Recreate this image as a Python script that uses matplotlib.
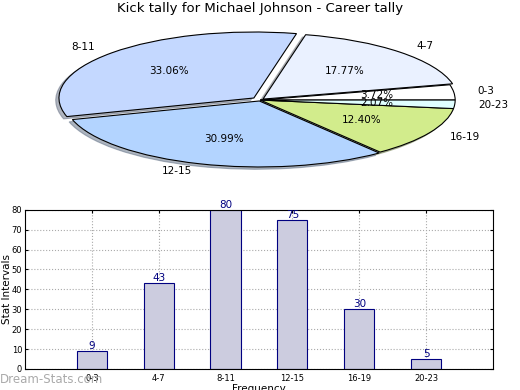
import matplotlib
matplotlib.use("Agg")
import matplotlib.pyplot as plt

plt.rcParams["font.family"] = ["DejaVu Sans"]

# 数据
labels = ["0-3", "4-7", "8-11", "12-15", "16-19", "20-23"]
counts = [9, 43, 80, 75, 30, 5]
pie_colors = ["#ffffff", "#eaf1ff", "#c4d8ff", "#b3d4ff", "#d2ec8c", "#e0ffff"]
explode = [0.0, 0.02, 0.045, 0.015, 0.0, 0.0]

fig = plt.figure(figsize=(5.2, 3.9), dpi=100)
fig.suptitle("Kick tally for Michael Johnson - Career tally", fontsize=9.5, y=0.995)

# 饼图 (压扁成椭圆)
ax1 = fig.add_axes([0.032, 0.532, 0.937, 0.423])
wedges, texts, autotexts = ax1.pie(
    counts, labels=labels, colors=pie_colors, explode=explode,
    startangle=0, counterclock=True, shadow=dict(ox=-0.012, oy=-0.025, shade=0.5),
    autopct="%.2f%%", pctdistance=0.6, labeldistance=1.12,
    wedgeprops=dict(edgecolor="black", linewidth=0.8),
    textprops=dict(fontsize=7.5))
ax1.set_aspect("auto")
ax1.set_xlim(-1.25, 1.25)
ax1.set_ylim(-1.25, 1.25)

# 柱状图
ax2 = fig.add_axes([0.048, 0.054, 0.9, 0.408])
x = list(range(len(labels)))
ax2.bar(x, counts, width=0.45, color="#ccccdf", edgecolor="#000080", linewidth=0.8, zorder=2)
for xi, v in zip(x, counts):
    ax2.text(xi, v, str(v), ha="center", va="bottom", color="#000080", fontsize=7.5)
ax2.set_xlim(-1, 6)
ax2.set_ylim(0, 80)
ax2.set_xticks(x)
ax2.set_xticklabels(labels, fontsize=6)
ax2.set_yticks(range(0, 81, 10))
ax2.tick_params(axis="y", labelsize=6, direction="in", right=True, length=2, pad=2)
ax2.tick_params(axis="x", direction="in", top=True, length=2)
ax2.grid(True, linestyle=":", color="#aaaaaa", linewidth=0.8, zorder=0)
ax2.set_axisbelow(True)
ax2.set_ylabel("Stat Intervals", fontsize=7.5)
ax2.yaxis.set_label_coords(-0.028, 0.5)
ax2.set_xlabel("Frequency", fontsize=7.5, labelpad=1)

fig.text(0.0, 0.018, "Dream-Stats.com", color="#aaaaaa", fontsize=8.5)

fig.savefig("out.png", dpi=100)
